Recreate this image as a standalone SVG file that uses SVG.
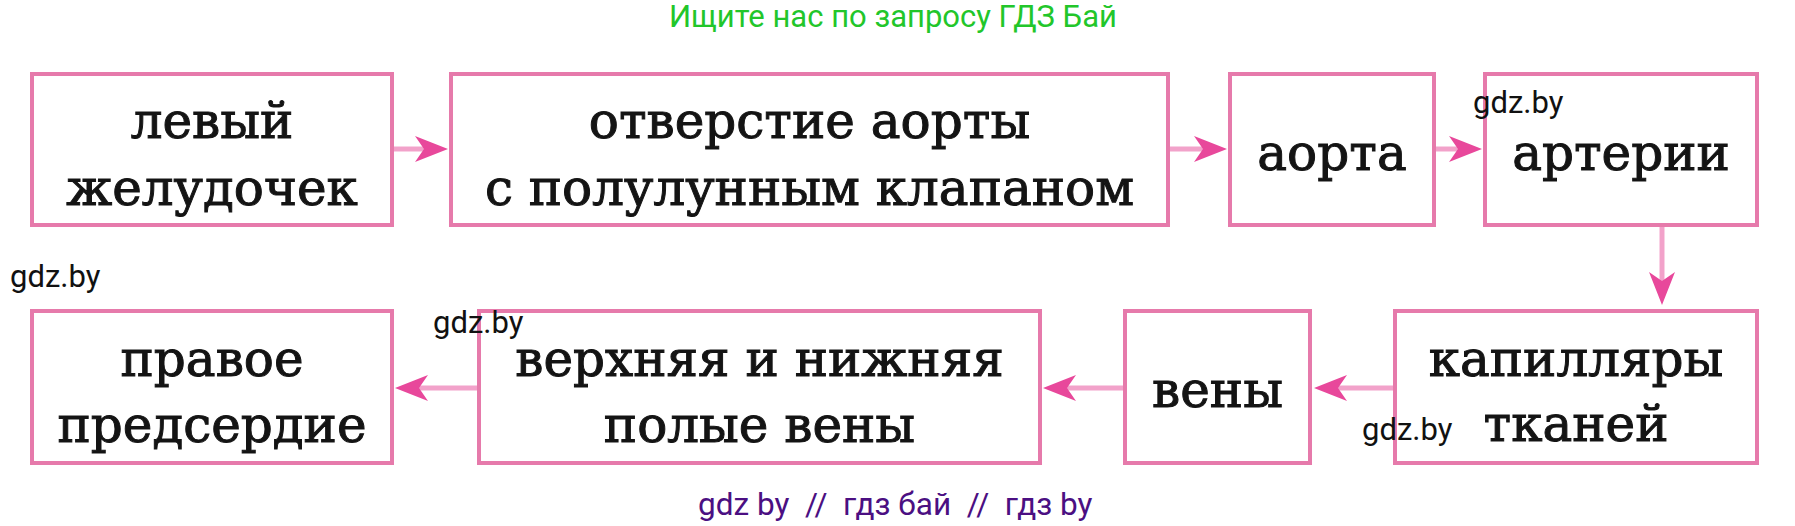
<svg xmlns="http://www.w3.org/2000/svg" width="1795" height="526" viewBox="0 0 1795 526">
  <style>
    .box { fill: #ffffff; stroke: #e67aab; stroke-width: 4; }
    .lbl { font-family: "DejaVu Serif", "Liberation Serif", serif; font-size: 50px; fill: #141414; stroke: #141414; stroke-width: 1; text-anchor: middle; }
    .conn { stroke: #f2a2ca; stroke-width: 5; fill: none; marker-end: url(#ah); }
    .wm { font-family: Roboto, "Liberation Sans", sans-serif; font-size: 31px; fill: #111111; }
  </style>
  <defs>
    <marker id="ah" viewBox="0 -13 33 26" markerWidth="33" markerHeight="26" refX="9" refY="0" orient="auto" markerUnits="userSpaceOnUse">
      <path d="M33,0 L0,-13 L9,0 L0,13 Z" fill="#e8489b"/>
    </marker>
  </defs>
  <rect width="1795" height="526" fill="#ffffff"/>

  <g id="connectors">
    <line class="conn" x1="394" y1="149" x2="424" y2="149"/>
    <line class="conn" x1="1170" y1="149" x2="1203" y2="149"/>
    <line class="conn" x1="1436" y1="149" x2="1458" y2="149"/>
    <line class="conn" x1="1662" y1="227" x2="1662" y2="281"/>
    <line class="conn" x1="1393" y1="388" x2="1338" y2="388"/>
    <line class="conn" x1="1123" y1="388" x2="1067" y2="388"/>
    <line class="conn" x1="477" y1="388" x2="419" y2="388"/>
  </g>

  <g id="node-levyi">
    <rect class="box" x="32" y="74" width="360" height="151"/>
    <text class="lbl" x="212" y="138">левый</text>
    <text class="lbl" x="212" y="205">желудочек</text>
  </g>
  <g id="node-otverstie">
    <rect class="box" x="451" y="74" width="717" height="151"/>
    <text class="lbl" x="809.5" y="138">отверстие аорты</text>
    <text class="lbl" x="809.5" y="205">с полулунным клапаном</text>
  </g>
  <g id="node-aorta">
    <rect class="box" x="1230" y="74" width="204" height="151"/>
    <text class="lbl" x="1332" y="170">аорта</text>
  </g>
  <g id="node-arterii">
    <rect class="box" x="1485" y="74" width="272" height="151"/>
    <text class="lbl" x="1621" y="170">артерии</text>
  </g>
  <g id="node-kapillyary">
    <rect class="box" x="1395" y="311" width="362" height="152"/>
    <text class="lbl" x="1576" y="376">капилляры</text>
    <text class="lbl" x="1576" y="441">тканей</text>
  </g>
  <g id="node-veny">
    <rect class="box" x="1125" y="311" width="185" height="152"/>
    <text class="lbl" x="1217.5" y="407">вены</text>
  </g>
  <g id="node-polye">
    <rect class="box" x="479" y="311" width="561" height="152"/>
    <text class="lbl" x="759.5" y="376">верхняя и нижняя</text>
    <text class="lbl" x="759.5" y="442">полые вены</text>
  </g>
  <g id="node-pravoe">
    <rect class="box" x="32" y="311" width="360" height="152"/>
    <text class="lbl" x="212" y="376">правое</text>
    <text class="lbl" x="212" y="442">предсердие</text>
  </g>

  <g id="watermarks">
    <text x="669" y="27" font-family="Roboto, 'Liberation Sans', sans-serif" font-size="31" fill="#22c62a">Ищите нас по запросу ГДЗ Бай</text>
    <text class="wm" x="1473" y="113">gdz.by</text>
    <text class="wm" x="10" y="287">gdz.by</text>
    <text class="wm" x="433" y="333">gdz.by</text>
    <text class="wm" x="1362" y="440">gdz.by</text>
    <text x="698" y="515" font-family="Roboto, 'Liberation Sans', sans-serif" font-size="31.5" fill="#4b0f82" xml:space="preserve">gdz by  //  гдз бай  //  гдз by</text>
  </g>
</svg>
